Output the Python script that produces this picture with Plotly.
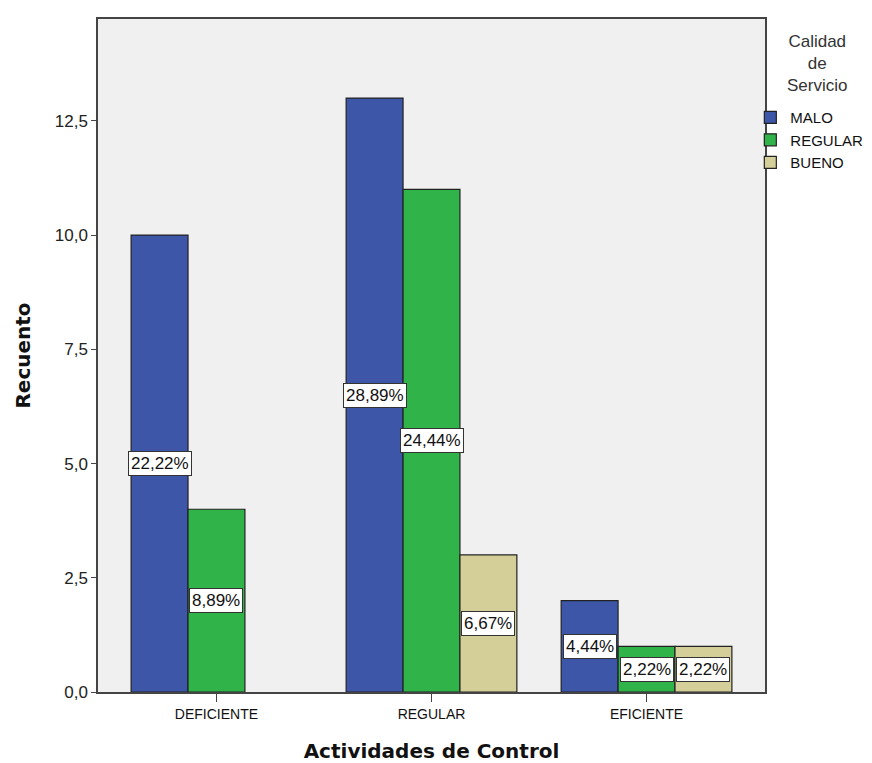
import plotly.graph_objects as go

categories = ["DEFICIENTE", "REGULAR", "EFICIENTE"]
series_names = ["MALO", "REGULAR", "BUENO"]
malo = [10, 13, 2]
regular = [4, 11, 1]
bueno = [None, 3, 1]
pct_labels = {
    "MALO": ["22,22%", "28,89%", "4,44%"],
    "REGULAR": ["8,89%", "24,44%", "2,22%"],
    "BUENO": [None, "6,67%", "2,22%"],
}
colors = ["#3D56A8", "#30B44A", "#D4CF98"]
y_ticks = [0, 2.5, 5, 7.5, 10, 12.5]
legend_title = "Calidad<br>de<br>Servicio"

values = [malo, regular, bueno]
bargap = 0.206
group_w = 1 - bargap
n = len(series_names)

fig = go.Figure()
for name, vals, col in zip(series_names, values, colors):
    fig.add_trace(go.Bar(
        name=name, x=categories, y=vals,
        marker=dict(color=col, line=dict(color="#222222", width=1.2)),
    ))

annotations = []
for j, name in enumerate(series_names):
    for i, (v, lab) in enumerate(zip(values[j], pct_labels[name])):
        if v is None or lab is None:
            continue
        xpos = i + (j - (n - 1) / 2) * group_w / n
        annotations.append(dict(
            x=xpos, y=v / 2, xref="x", yref="y", text=lab, showarrow=False,
            font=dict(family="Arial, Liberation Sans", size=17, color="#111111"),
            bgcolor="white", bordercolor="#333333", borderwidth=1, borderpad=2,
        ))

# legend title (centered, multi-line)
annotations.append(dict(
    x=1.078, y=0.9837, xref="paper", yref="paper", xanchor="center", yanchor="top",
    text=legend_title, showarrow=False, align="center",
    font=dict(family="Arial, Liberation Sans", size=17, color="#333333"),
))

fig.update_layout(
    width=864, height=755,
    margin=dict(l=90, r=107, t=11, b=71, autoexpand=False),
    paper_bgcolor="white", plot_bgcolor="#F0F0F0",
    barmode="group", bargap=bargap, bargroupgap=0,
    separators=",.",
    font=dict(family="Arial, Liberation Sans", size=15, color="#222222"),
    annotations=annotations,
    showlegend=True,
    legend=dict(
        x=0.978, y=0.878, xanchor="left", yanchor="top",
        font=dict(size=15, color="#111111"),
        itemwidth=30, tracegroupgap=0, bgcolor="rgba(0,0,0,0)",
    ),
    xaxis=dict(
        type="category", range=[-0.551, 2.551], automargin=False,
        showline=True, linecolor="#444444", linewidth=1.5, mirror=True,
        ticks="outside", ticklen=8, tickcolor="#444444",
        tickfont=dict(size=14, color="#111111"),
        title=dict(text="<b>Actividades de Control</b>", standoff=29,
                   font=dict(size=20, color="#111111", family="DejaVu Sans")),
        showgrid=False,
    ),
    yaxis=dict(
        range=[0, 14.73], tickvals=y_ticks, tickformat=".1f", automargin=False,
        showline=True, linecolor="#444444", linewidth=1.5, mirror=True,
        ticks="outside", ticklen=5, tickcolor="#444444",
        tickfont=dict(size=17, color="#222222"),
        title=dict(text="<b>Recuento</b>", standoff=19,
                   font=dict(size=20, color="#111111", family="DejaVu Sans")),
        showgrid=False, zeroline=False,
    ),
)

fig.write_html("out.html")
